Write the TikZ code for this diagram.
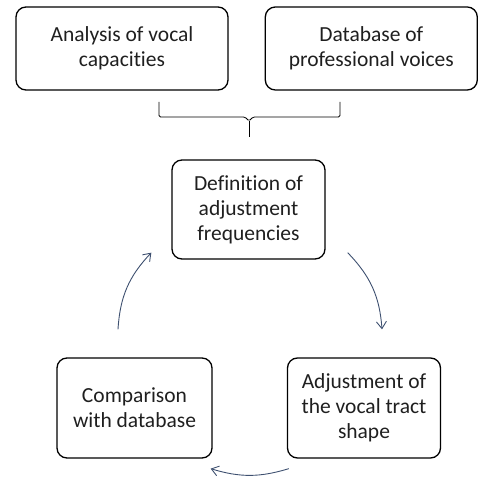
\documentclass[tikz,border=0pt]{standalone}
\usepackage{fontspec}
\setmainfont{Carlito}[RawFeature=-liga]
\usepackage{xcolor}
\usetikzlibrary{arrows.meta,positioning}
\definecolor{cyclecol}{HTML}{3E5070}

\begin{document}
\begin{tikzpicture}[
  x=1pt, y=1pt,
  >={Straight Barb[length=7pt,width=10pt]},
  stage/.style={draw, line width=1.3pt, rounded corners=10pt, align=center, text=black!88, font=\fontsize{21.5}{25}\selectfont},
  source/.style={stage, minimum width=212pt, minimum height=83pt},
  cyclebox/.style={stage, minimum width=153pt, minimum height=100pt},
  cyc/.style={->, cyclecol, line width=0.9pt}
]
\useasboundingbox (0,0) rectangle (477,479);

\node[source] (analysis) at (122,430.5) {Analysis of vocal\\capacities};
\node[source, right=36pt of analysis] (database) {Database of\\professional voices};
\node[cyclebox, minimum height=99pt] (definition) at (248.5,269.5) {Definition of\\adjustment\\frequencies};
\node[cyclebox, minimum width=155pt] (comparison) at (134.5,71) {Comparison\\with database};
\node[cyclebox] (adjustment) at (364,71) {Adjustment of\\the vocal tract\\shape};

% brace joining the two sources
\coordinate (braceL) at (159,377);
\coordinate (braceR) at (340,377);
\coordinate (braceM) at (249,342);
\draw[line width=0.8pt, rounded corners=1.5pt]
  (braceL) -- (159,362) -- (245,362) -- (249,358) -- (253,362) -- (340,362) -- (braceR);
\draw[line width=0.8pt] (249,358) -- (braceM);

% cycle
\draw[cyc] ([xshift=22pt,yshift=7pt]definition.south east) to[bend left=20] ([xshift=18pt,yshift=28pt]adjustment.north);
\draw[cyc] ([xshift=2pt,yshift=-10pt]adjustment.south west) to[bend left=17] ([xshift=-2pt,yshift=-10pt]comparison.south east);
\draw[cyc] ([xshift=-16.5pt,yshift=28pt]comparison.north) to[bend left=20] ([xshift=-20pt,yshift=7pt]definition.south west);
\end{tikzpicture}
\end{document}
